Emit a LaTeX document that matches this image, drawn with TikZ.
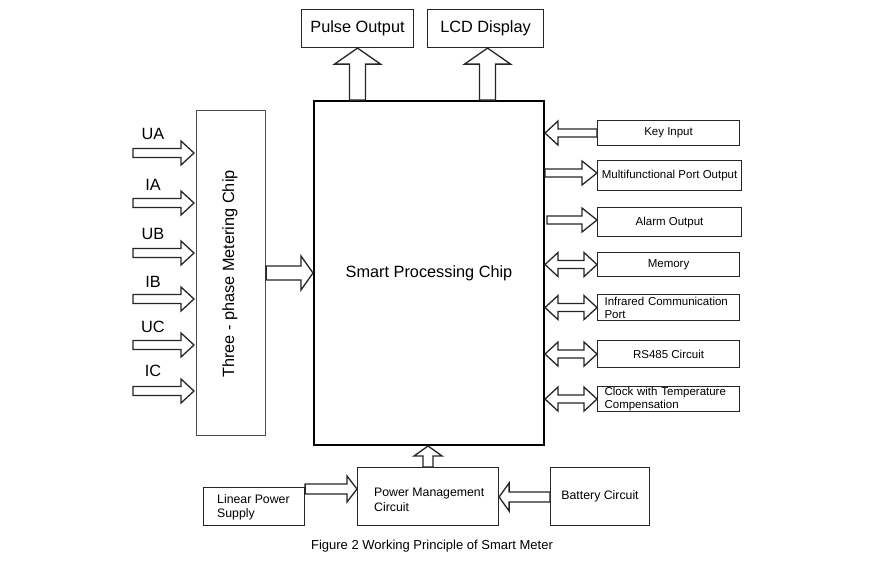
\documentclass[tikz,border=0pt]{standalone}
\usepackage{fontspec}
\setmainfont{Liberation Sans}
\usetikzlibrary{calc}
\newcommand{\fbig}{\fontsize{16.3}{19}\selectfont}
\newcommand{\fmid}{\fontsize{12.3}{14.5}\selectfont}
\newcommand{\fsmall}{\fontsize{11.5}{13}\selectfont}
\newcommand{\fcap}{\fontsize{13}{15}\selectfont}
\tikzset{
  box/.style={draw=black!85, line width=1.1pt, inner sep=0pt, anchor=north west, align=center},
  arr/.style={draw=black!85, line width=1.3pt, fill=white, line join=miter},
  lbl/.style={inner sep=0pt, align=left},
}
% single block arrow: from #1 to #2, shaft half-width #3, head half-width #4, head length #5
\newcommand{\barrow}[5]{%
  \draw[arr] let \p1=#1, \p2=#2, \n1={atan2(\y2-\y1,\x2-\x1)}, \n2={veclen(\x2-\x1,\y2-\y1)} in
  [shift={(\p1)}, rotate=\n1]
  (0,#3) -- ({\n2-#5},#3) -- ({\n2-#5},#4) -- (\n2,0) -- ({\n2-#5},-#4) -- ({\n2-#5},-#3) -- (0,-#3) -- cycle;}
% double block arrow
\newcommand{\dbarrow}[5]{%
  \draw[arr] let \p1=#1, \p2=#2, \n1={atan2(\y2-\y1,\x2-\x1)}, \n2={veclen(\x2-\x1,\y2-\y1)} in
  [shift={(\p1)}, rotate=\n1]
  (0,0) -- (#5,#4) -- (#5,#3) -- ({\n2-#5},#3) -- ({\n2-#5},#4) -- (\n2,0) -- ({\n2-#5},-#4) -- ({\n2-#5},-#3) -- (#5,-#3) -- (#5,-#4) -- cycle;}
\begin{document}
\begin{tikzpicture}[x=1pt,y=-1pt]
\useasboundingbox[fill=white] (0,0) rectangle (884,562);

% top boxes
\node[box, minimum width=112pt, minimum height=38pt, font=\fbig] (pulse) at (301,9) {Pulse Output};
\node[box, minimum width=116pt, minimum height=38pt, font=\fbig] (lcd) at (427,9) {LCD Display};

% main chip
\node[box, line width=2pt, draw=black, minimum width=230pt, minimum height=344pt, font=\fbig] (smart) at (313,100) {Smart Processing Chip};

% metering chip
\node[box, draw=black!70, minimum width=69pt, minimum height=325pt] (meter) at (196,110) {};
\node[rotate=90, font=\fbig, inner sep=0pt] (metertext) at (230,274) {Three - phase Metering Chip};

% right boxes
\node[box, minimum width=142pt, minimum height=25pt, font=\fsmall] (key) at (597,120) {Key Input};
\node[box, minimum width=144pt, minimum height=30pt, font=\fsmall] (multi) at (597,160) {Multifunctional Port Output};
\node[box, minimum width=144pt, minimum height=29pt, font=\fsmall] (alarm) at (597,207) {Alarm Output};
\node[box, minimum width=142pt, minimum height=24pt, font=\fsmall] (mem) at (597,252) {Memory};
\node[box, minimum width=142pt, minimum height=26pt, font=\fsmall, text width=128pt, align=left] (ir) at (597,294) {Infrared Communication\\Port};
\node[box, minimum width=142pt, minimum height=27pt, font=\fsmall] (rs) at (597,340) {RS485 Circuit};
\node[box, minimum width=142pt, minimum height=25pt, font=\fsmall, text width=128pt, align=left] (clk) at (597,386) {Clock with Temperature\\Compensation};

% bottom boxes
\node[box, minimum width=141pt, minimum height=58pt] (pm) at (357,467) {};
\node[lbl, font=\fmid, anchor=west] (pmtext) at (374,500) {Power Management\\Circuit};
\node[box, minimum width=101pt, minimum height=38pt] (lin) at (203,487) {};
\node[lbl, font=\fmid, anchor=west] (lintext) at (217,507.5) {Linear Power\\Supply};
\node[box, minimum width=99pt, minimum height=58pt, font=\fmid] (bat) at (550,467) {Battery Circuit};

% caption
\node[font=\fcap, inner sep=0pt] (cap) at (432,546) {Figure 2 Working Principle of Smart Meter};

% input labels and arrows
\foreach \name/\lab/\ay/\ly in {ua/UA/153/134, ia/IA/203/185, ub/UB/253/234, ib/IB/299/282, uc/UC/345/327, ic/IC/391/371} {
  \node[font=\fbig, inner sep=0pt] (\name l) at (153,\ly) {\lab};
  \coordinate (\name) at (133,\ay);
  \barrow{(\name)}{($(\name -| meter.west)+(-2,0)$)}{4.5}{12}{13}
}

% metering -> smart
\coordinate (m2s) at (meter.east |- 0,273);
\barrow{(m2s)}{(m2s -| smart.west)}{7}{17}{12}

% up arrows to pulse / lcd
\barrow{(pulse.south |- smart.north)}{(pulse.south)}{8}{23}{16}
\barrow{($(lcd.south |- smart.north)+(2,0)$)}{($(lcd.south)+(2,0)$)}{8}{23}{16}

% right side arrows
\barrow{(key.west)}{(key.west -| smart.east)}{4}{12}{13}
\coordinate (mu) at (multi.west |- 0,173);
\barrow{(mu -| smart.east)}{(mu)}{4}{12}{15}
\coordinate (al) at (alarm.west |- 0,220);
\barrow{($(al -| smart.east)+(2,0)$)}{(al)}{4}{12}{15}
\dbarrow{(mem.west -| smart.east)}{(mem.west)}{4}{12}{13}
\dbarrow{(ir.west -| smart.east)}{(ir.west)}{4}{12}{13}
\dbarrow{(rs.west -| smart.east)}{(rs.west)}{4}{12}{13}
\dbarrow{(clk.west -| smart.east)}{(clk.west)}{4}{12}{13}

% power arrows
\barrow{(pm.north)}{(pm.north |- smart.south)}{5}{14}{10}
\coordinate (li) at (lin.east |- 0,489);
\barrow{(li)}{(li -| pm.west)}{5}{13}{10}
\coordinate (ba) at (bat.west |- 0,497);
\barrow{(ba)}{(ba -| pm.east)}{5}{14}{10}

\end{tikzpicture}
\end{document}
